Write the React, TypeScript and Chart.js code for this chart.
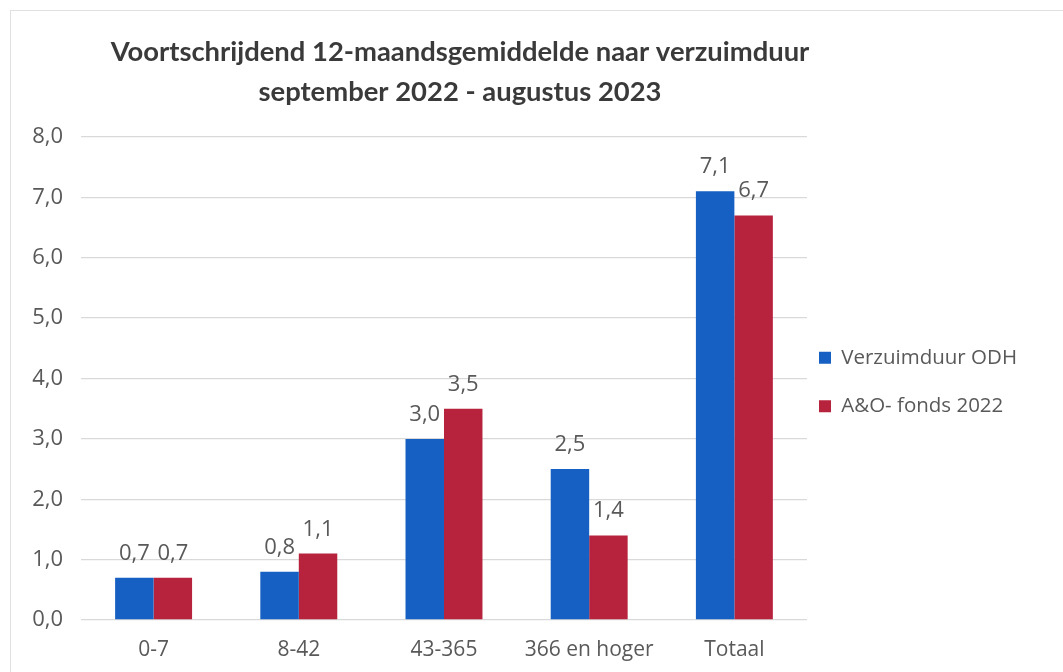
import React, { useEffect, useRef } from "react";
import { Chart, registerables } from "chart.js";

Chart.register(...registerables);

const categories = ["0-7", "8-42", "43-365", "366 en hoger", "Totaal"];
const seriesNames = ["Verzuimduur ODH", "A&O- fonds 2022"];
const odhValues = [0.7, 0.8, 3.0, 2.5, 7.1];
const aoValues = [0.7, 1.1, 3.5, 1.4, 6.7];
const titleLines = ["Voortschrijdend 12-maandsgemiddelde naar verzuimduur", "september 2022 - augustus 2023"];
const yMin = 0;
const yMax = 8;
const yStep = 1;

const BLUE = "#1560c2";
const RED = "#b7233d";
const TEXT = "#595959";
const FONT = "'Open Sans', 'DejaVu Sans', sans-serif";

const fmt = (v: number) => v.toFixed(1).replace(".", ",");

const valueLabels = {
  id: "valueLabels",
  afterDatasetsDraw(chart: any) {
    const ctx = chart.ctx;
    ctx.save();
    ctx.font = `22px ${FONT}`;
    ctx.fillStyle = TEXT;
    ctx.textAlign = "center";
    ctx.textBaseline = "alphabetic";
    chart.data.datasets.forEach((ds: any, di: number) => {
      const meta = chart.getDatasetMeta(di);
      meta.data.forEach((bar: any, i: number) => {
        ctx.fillText(fmt(ds.data[i]), bar.x, bar.y - 18);
      });
    });
    ctx.restore();
  },
};

const layoutTweak = {
  id: "layoutTweak",
  afterLayout(chart: any) {
    if (chart.legend) {
      chart.legend.left -= 16;
      chart.legend.right -= 16;
      chart.legend.top += 46;
      chart.legend.bottom += 46;
    }
    if (chart.titleBlock) {
      chart.titleBlock.left += 16;
      chart.titleBlock.right += 16;
    }
  },
};

export default function App() {
  const ref = useRef<HTMLCanvasElement | null>(null);
  useEffect(() => {
    if (!ref.current) return;
    const chart = new Chart(ref.current, {
      type: "bar",
      data: {
        labels: categories,
        datasets: [
          { label: seriesNames[0], data: odhValues, backgroundColor: BLUE, borderWidth: 0 },
          { label: seriesNames[1], data: aoValues, backgroundColor: RED, borderWidth: 0 },
        ],
      },
      options: {
        animation: false,
        responsive: false,
        maintainAspectRatio: false,
        layout: { padding: { top: 10, left: 30, right: 20, bottom: 10 } },
        datasets: { bar: { categoryPercentage: 0.53, barPercentage: 1.0 } },
        scales: {
          x: {
            grid: { display: false, drawTicks: false },
            border: { display: false },
            ticks: { color: TEXT, font: { family: FONT, size: 21 }, padding: 17 },
            afterFit: (s: any) => {
              s.height = 42;
            },
          },
          y: {
            min: yMin,
            max: yMax,
            grid: { color: "#d9d9d9", lineWidth: 1.3, drawTicks: false },
            border: { display: false },
            ticks: {
              stepSize: yStep,
              color: TEXT,
              font: { family: FONT, size: 22 },
              padding: 18,
              callback: (v: any) => fmt(Number(v)),
            },
            afterFit: (s: any) => {
              s.width = 51;
            },
          },
        },
        plugins: {
          title: {
            display: true,
            text: titleLines,
            fullSize: false,
            color: "#3a3a3a",
            font: { family: "Lato, 'Open Sans', sans-serif", size: 27.4, weight: "bold", lineHeight: 40 / 27.4 },
            padding: { top: 22, bottom: 25 },
          },
          legend: {
            position: "right",
            maxWidth: 253,
            labels: {
              boxWidth: 12,
              boxHeight: 12,
              padding: 28,
              color: TEXT,
              font: { family: FONT, size: 20.5 },
            },
          },
          tooltip: { enabled: false },
        },
      },
      plugins: [valueLabels, layoutTweak],
    });
    return () => chart.destroy();
  }, []);
  return (
    <div style={{ position: "absolute", left: 0, top: 0, width: 1063, height: 672, background: "#fff" }}>
      <div
        style={{
          position: "absolute",
          left: 10,
          top: 10,
          right: 0,
          bottom: 0,
          borderTop: "1px solid #e0e0e0",
          borderLeft: "1px solid #e0e0e0",
        }}
      />
      <canvas ref={ref} width={1063} height={672} style={{ position: "absolute", left: 0, top: 0 }} />
    </div>
  );
}
